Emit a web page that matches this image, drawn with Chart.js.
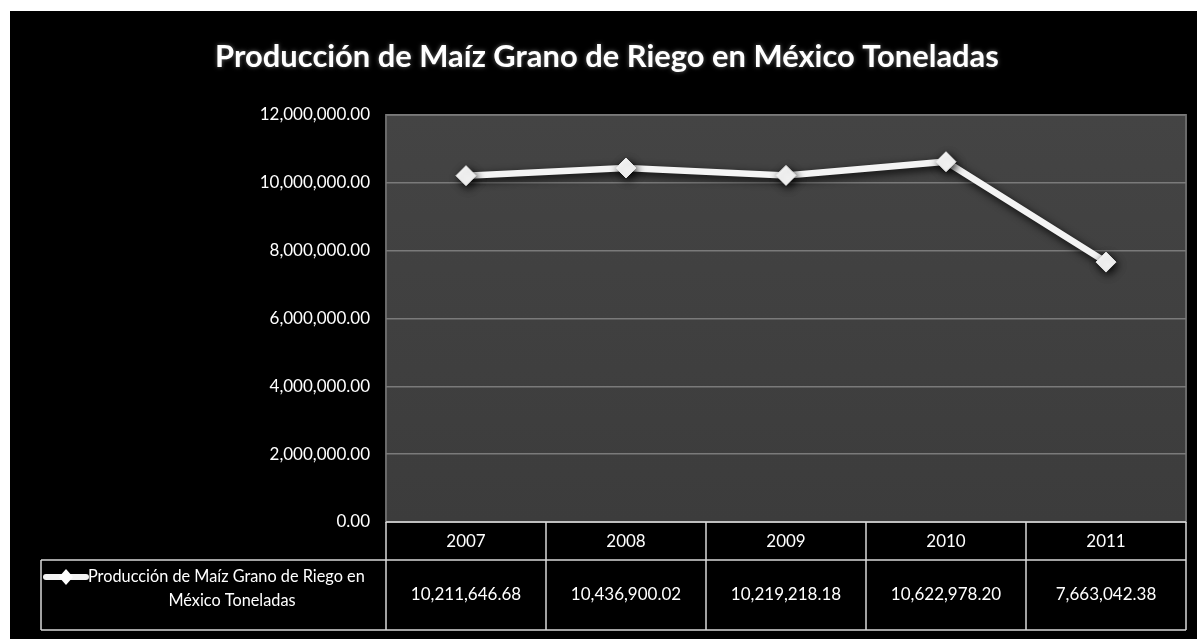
<!DOCTYPE html>
<html>
<head>
<meta charset="utf-8">
<script src="https://cdn.jsdelivr.net/npm/chart.js@4/dist/chart.umd.min.js"></script>
<style>
  html, body { margin: 0; padding: 0; background: #fff; overflow: hidden; }
</style>
</head>
<body>
<canvas id="maizChart" width="1197" height="639"></canvas>
<script>
// Data
const years = ['2007', '2008', '2009', '2010', '2011'];
const produccion = [10211646.68, 10436900.02, 10219218.18, 10622978.20, 7663042.38];
const yTickValues = [0, 2000000, 4000000, 6000000, 8000000, 10000000, 12000000];
const chartTitle = 'Producción de Maíz Grano de Riego en México Toneladas';
const seriesLabel = ['Producción de Maíz Grano de Riego en', 'México Toneladas'];

const FONT = 'Lato, "Open Sans", sans-serif';

function fmt(v) {
    return v.toLocaleString('en-US', { minimumFractionDigits: 2, maximumFractionDigits: 2 });
}

// Black panel, plot background and title
const backgroundPlugin = {
    id: 'background',
    beforeDraw(chart) {
        const c = chart.ctx;
        const a = chart.chartArea;
        c.save();
        c.fillStyle = '#000';
        c.fillRect(10, 11, chart.width - 10, chart.height - 11);

        const g = c.createLinearGradient(0, a.top, 0, a.bottom);
        g.addColorStop(0, '#444444');
        g.addColorStop(1, '#3c3c3c');
        c.fillStyle = g;
        c.fillRect(a.left, a.top, a.right - a.left, a.bottom - a.top);

        c.strokeStyle = '#6a6a6a';
        c.lineWidth = 2;
        c.strokeRect(a.left, a.top, a.right - a.left, a.bottom - a.top);

        // title
        c.font = 'bold 100px ' + FONT;
        const w = c.measureText(chartTitle).width;
        const size = 100 * 785 / w;
        c.font = 'bold ' + size.toFixed(1) + 'px ' + FONT;
        c.textAlign = 'center';
        c.textBaseline = 'middle';
        c.shadowColor = 'rgba(255,255,255,0.4)';
        c.shadowBlur = 4;
        c.fillStyle = '#fff';
        c.fillText(chartTitle, 607, 57);
        c.restore();
    },
    beforeDatasetsDraw(chart) {
        const c = chart.ctx;
        c.save();
        c.shadowColor = 'rgba(0,0,0,0.9)';
        c.shadowBlur = 8;
        c.shadowOffsetX = 2;
        c.shadowOffsetY = 3;
    },
    afterDatasetsDraw(chart) {
        chart.ctx.restore();
    }
};

// Data table under the plot
const dataTablePlugin = {
    id: 'dataTable',
    afterDraw(chart) {
        const c = chart.ctx;
        const a = chart.chartArea;
        const xs = chart.scales.x;
        const n = years.length;
        const colW = (a.right - a.left) / n;
        const headTop = a.bottom, headBot = a.bottom + 38, rowBot = a.bottom + 108;
        const legLeft = 41;

        c.save();
        c.strokeStyle = '#d8d8d8';
        c.lineWidth = 1.5;
        c.beginPath();
        c.moveTo(a.left, headTop); c.lineTo(a.right, headTop);
        c.moveTo(legLeft, headBot); c.lineTo(a.right, headBot);
        c.moveTo(legLeft, rowBot); c.lineTo(a.right, rowBot);
        c.moveTo(legLeft, headBot); c.lineTo(legLeft, rowBot);
        for (let i = 0; i <= n; i++) {
            const x = a.left + i * colW;
            c.moveTo(x, headTop); c.lineTo(x, rowBot);
        }
        c.stroke();

        c.fillStyle = '#fff';
        c.textAlign = 'center';
        c.textBaseline = 'middle';
        c.font = '17px ' + FONT;
        years.forEach((yr, i) => {
            const x = xs.getPixelForValue(i);
            c.fillText(yr, x, (headTop + headBot) / 2 + 1);
            c.fillText(fmt(produccion[i]), x, (headBot + rowBot) / 2);
        });

        // legend key
        const ky = headBot + 17;
        c.strokeStyle = '#f4f4f4';
        c.lineWidth = 6;
        c.lineCap = 'round';
        c.beginPath();
        c.moveTo(46, ky); c.lineTo(86, ky);
        c.stroke();
        c.fillStyle = '#fff';
        c.beginPath();
        c.moveTo(66, ky - 8); c.lineTo(73, ky); c.lineTo(66, ky + 8); c.lineTo(59, ky);
        c.closePath();
        c.fill();

        c.font = '16.3px ' + FONT;
        c.textAlign = 'left';
        c.fillText(seriesLabel[0], 88, ky);
        c.textAlign = 'center';
        c.fillText(seriesLabel[1], 232, ky + 24);
        c.restore();
    }
};

const ctx = document.getElementById('maizChart').getContext('2d');
new Chart(ctx, {
    type: 'line',
    data: {
        labels: years,
        datasets: [{
            label: seriesLabel.join(' '),
            data: produccion,
            borderColor: '#f4f4f4',
            borderWidth: 6.5,
            pointStyle: 'rectRot',
            pointRadius: 10,
            pointBackgroundColor: '#ffffff',
            pointBorderColor: '#e6e6e6',
            pointBorderWidth: 1,
            tension: 0
        }]
    },
    options: {
        responsive: false,
        animation: false,
        devicePixelRatio: 1,
        layout: { padding: { left: 0, right: 8, top: 115, bottom: 117 } },
        plugins: {
            legend: { display: false },
            title: { display: false },
            tooltip: { enabled: false }
        },
        scales: {
            x: {
                type: 'category',
                offset: true,
                display: false
            },
            y: {
                min: 0,
                max: 12000000,
                afterFit(scale) { scale.width = 386; },
                afterBuildTicks(scale) { scale.ticks = yTickValues.map(v => ({ value: v })); },
                border: { display: false },
                grid: { color: '#7a7a7a', lineWidth: 1.5, drawTicks: false },
                ticks: {
                    color: '#ffffff',
                    padding: 16,
                    font: { family: FONT, size: 17 },
                    callback: v => fmt(v)
                }
            }
        }
    },
    plugins: [backgroundPlugin, dataTablePlugin]
});
</script>
</body>
</html>
